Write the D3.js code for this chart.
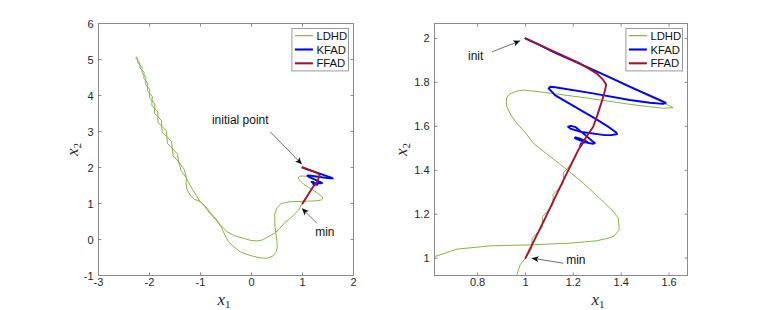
<!DOCTYPE html>
<html><head><meta charset="utf-8">
<script src="https://cdn.jsdelivr.net/npm/d3@7"></script>
<style>body{margin:0;background:#fff}svg{display:block}</style>
</head><body>
<svg id="c" width="761" height="310"></svg>
<script>
// ---------------- data ----------------
const seriesNames = ["LDHD", "KFAD", "FFAD"];
const seriesColors = ["#77AC30", "#0000FF", "#A2142F"];
const seriesWidths = [0.9, 1.9, 1.9];

const ldhd = [
  [1.0,2.0],[1.3,1.847],[1.5,1.745],[1.6,1.694],[1.617,1.685],
  [1.575,1.682],[1.436,1.70],[1.25,1.73],[1.061,1.757],[0.992,1.765],[0.964,1.76],[0.935,1.748],[0.922,1.732],[0.92,1.71],[0.922,1.689],[0.94,1.65],[0.964,1.614],[1.0,1.57],[1.033,1.523],[1.1,1.465],[1.158,1.416],[1.242,1.341],[1.325,1.257],[1.365,1.215],[1.388,1.182],[1.392,1.129],[1.37,1.1],[1.346,1.091],[1.298,1.079],[1.186,1.068],[1.006,1.06],[0.853,1.056],[0.714,1.041],[0.62,1.007],
  [0.58,1.0],[0.50,0.88],[0.455,0.7],[0.46,0.36],[0.48,0.15],[0.50,-0.06],[0.505,-0.22],[0.48,-0.36],[0.42,-0.46],[0.30,-0.52],[0.17,-0.51],[0.04,-0.47],[-0.1,-0.41],[-0.22,-0.34],[-0.35,-0.2],[-0.45,-0.06],[-0.52,0.12],[-0.58,0.31],[-0.68,0.54],[-0.80,0.74],[-0.90,0.91],[-1.006,1.05],[-1.08,1.22],[-1.16,1.40],[-1.23,1.57],
  [-1.275,1.70],[-1.315,1.94],[-1.43,2.16],[-1.536,2.321],[-1.555,2.532],[-1.565,2.717],[-1.659,2.855],[-1.750,2.981],[-1.763,3.151],[-1.763,3.301],[-1.836,3.410],[-1.900,3.507],[-1.899,3.641],[-1.894,3.765],[-1.949,3.854],[-2.000,3.940],[-1.997,4.057],[-1.994,4.164],[-2.039,4.242],[-2.078,4.313],[-2.074,4.409],[-2.071,4.499],[-2.107,4.566],[-2.1455,4.625],[-2.146,4.705],[-2.149,4.784],[-2.189,4.843],[-2.227,4.903],[-2.232,4.982],[-2.232,5.036],[-2.261,5.074],
  [-2.261,5.020],[-2.232,4.982],[-2.194,4.922],[-2.189,4.843],[-2.186,4.764],[-2.146,4.705],[-2.1075,4.646],[-2.107,4.566],[-2.110,4.476],[-2.074,4.409],[-2.035,4.338],[-2.039,4.242],[-2.042,4.136],[-1.997,4.057],[-1.946,3.971],[-1.949,3.854],[-1.954,3.730],[-1.899,3.641],[-1.835,3.544],[-1.836,3.410],[-1.836,3.260],[-1.763,3.151],[-1.672,3.025],[-1.659,2.855],[-1.649,2.670],[-1.555,2.532],[-1.449,2.371],[-1.43,2.16],[-1.38,1.92],[-1.275,1.70],
  [-1.285,1.55],[-1.265,1.40],[-1.21,1.24],[-1.12,1.12],[-1.006,1.05],[-0.92,0.93],[-0.84,0.77],[-0.72,0.58],[-0.61,0.40],[-0.48,0.22],[-0.33,0.10],[-0.157,0.036],[-0.03,-0.02],[0.106,-0.04],[0.22,-0.01],[0.33,0.08],[0.45,0.17],[0.55,0.30],[0.66,0.48],[0.79,0.63],[0.89,0.77],[0.935,0.84],[0.964,0.924],[0.978,0.97],[1.0,1.0],
  [1.026,1.04],[1.028,1.09],[1.07,1.14],[1.072,1.19],[1.114,1.24],[1.116,1.29],[1.158,1.34],[1.16,1.39],[1.192,1.43]
];

const kfad = [
  [1.0,2.0],[1.06,1.97],[1.12,1.937],[1.193,1.901],[1.339,1.83],[1.436,1.781],[1.52,1.74],[1.565,1.718],[1.586,1.707],[1.575,1.702],[1.52,1.707],[1.436,1.72],[1.27,1.752],[1.124,1.778],[1.103,1.78],[1.097,1.772],[1.11,1.758],[1.123,1.742],[1.2,1.693],[1.29,1.636],[1.35,1.595],[1.378,1.573],[1.383,1.565],[1.36,1.56],[1.331,1.56],[1.235,1.574],[1.19,1.588],[1.178,1.598],[1.19,1.602],[1.21,1.596],[1.25,1.56],[1.28,1.532],[1.29,1.524],[1.283,1.52],[1.26,1.525],[1.225,1.537],[1.206,1.546],[1.21,1.55],[1.225,1.545],[1.25,1.534],[1.258,1.529],[1.245,1.526],[1.232,1.522],[1.228,1.508],[1.234,1.515],[1.236,1.522]
];

const ffad = [
  [1.0,2.0],[1.12,1.94],[1.228,1.886],[1.297,1.841],[1.322,1.815],[1.337,1.79],[1.333,1.765],[1.318,1.71],[1.3,1.65],[1.283,1.598],[1.252,1.548],[1.222,1.495],[1.197,1.44],[1.17,1.38],[1.121,1.27],[1.077,1.17],[1.036,1.08],[1.0,1.0]
];

const leftXTicks = [-3, -2, -1, 0, 1, 2];
const leftYTicks = [-1, 0, 1, 2, 3, 4, 5, 6];
const rightXTicks = [0.8, 1, 1.2, 1.4, 1.6];
const rightYTicks = [1, 1.2, 1.4, 1.6, 1.8, 2];
const leftXDomain = [-3, 2], leftYDomain = [-1, 6];
const rightXDomain = [0.62, 1.677], rightYDomain = [0.921, 2.068];

// annotations: text, text anchor point, arrow tail, arrow head (data coords)
const leftNotes = [
  {text: "initial point", at: [-0.776, 3.207], from: [0.367, 2.993], to: [0.988, 2.089]},
  {text: "min", at: [1.249, 0.10], from: [1.282, 0.452], to: [0.988, 0.868]}
];
const rightNotes = [
  {text: "init", at: [0.76, 1.901], from: [0.86, 1.939], to: [0.978, 1.989]},
  {text: "min", at: [1.17, 0.974], from: [1.158, 0.977], to: [1.026, 1.0]}
];

// ---------------- drawing ----------------
const svg = d3.select("#c");
const FONT = "'Liberation Sans', Arial, Helvetica, sans-serif";
const defs = svg.append("defs");
defs.append("marker").attr("id", "ah").attr("viewBox", "0 0 10 10")
  .attr("refX", 10).attr("refY", 5).attr("markerWidth", 7).attr("markerHeight", 7)
  .attr("markerUnits", "userSpaceOnUse").attr("orient", "auto")
  .append("path").attr("d", "M0,0.5 L10,5 L0,9.5 L2.5,5 Z").attr("fill", "#111");

const series = [ldhd, kfad, ffad];

function panel(id, box, xDom, yDom, xTicks, yTicks, notes, xLabelX, yLabelX) {
  const x = d3.scaleLinear().domain(xDom).range([box.x0, box.x1]);
  const y = d3.scaleLinear().domain(yDom).range([box.y1, box.y0]);
  const g = svg.append("g");
  defs.append("clipPath").attr("id", "clip" + id).append("rect")
    .attr("x", box.x0).attr("y", box.y0).attr("width", box.x1 - box.x0).attr("height", box.y1 - box.y0);

  const line = d3.line().x(d => x(d[0])).y(d => y(d[1]));
  const lg = g.append("g").attr("clip-path", `url(#clip${id})`);
  series.forEach((s, i) => {
    lg.append("path").attr("d", line(s)).attr("fill", "none")
      .attr("stroke", seriesColors[i]).attr("stroke-width", seriesWidths[i])
      .attr("stroke-linejoin", "round").attr("stroke-linecap", "round");
  });

  // box
  const axC = "#8a8a8a";
  g.append("rect").attr("x", box.x0).attr("y", box.y0).attr("width", box.x1 - box.x0)
    .attr("height", box.y1 - box.y0).attr("fill", "none").attr("stroke", axC).attr("stroke-width", 1);
  const tl = 3;
  xTicks.forEach(t => {
    const px = x(t);
    g.append("line").attr("x1", px).attr("x2", px).attr("y1", box.y1).attr("y2", box.y1 - tl).attr("stroke", axC);
    g.append("line").attr("x1", px).attr("x2", px).attr("y1", box.y0).attr("y2", box.y0 + tl).attr("stroke", axC);
    g.append("text").attr("x", px).attr("y", box.y1 + 10.5).attr("text-anchor", "middle")
      .attr("font-family", FONT).attr("font-size", 11).attr("fill", "#262626").text(String(t));
  });
  yTicks.forEach(t => {
    const py = y(t);
    g.append("line").attr("x1", box.x0).attr("x2", box.x0 + tl).attr("y1", py).attr("y2", py).attr("stroke", axC);
    g.append("line").attr("x1", box.x1).attr("x2", box.x1 - tl).attr("y1", py).attr("y2", py).attr("stroke", axC);
    g.append("text").attr("x", box.x0 - 5).attr("y", py + 4).attr("text-anchor", "end")
      .attr("font-family", FONT).attr("font-size", 11).attr("fill", "#262626").text(String(t));
  });

  // axis labels
  const xl = g.append("text").attr("x", xLabelX).attr("y", box.y1 + 29.5).attr("text-anchor", "middle")
    .attr("font-family", "'Liberation Serif', 'Times New Roman', serif").attr("fill", "#262626");
  xl.append("tspan").attr("font-style", "italic").attr("font-size", 17).text("x");
  xl.append("tspan").attr("font-size", 11).attr("dy", 3).text("1");
  const ymid = (box.y0 + box.y1) / 2;
  const yl = g.append("text").attr("transform", `translate(${yLabelX},${ymid}) rotate(-90)`).attr("text-anchor", "middle")
    .attr("font-family", "'Liberation Serif', 'Times New Roman', serif").attr("fill", "#262626");
  yl.append("tspan").attr("font-style", "italic").attr("font-size", 17).text("x");
  yl.append("tspan").attr("font-size", 11).attr("dy", 3).text("2");

  // annotations
  notes.forEach(n => {
    g.append("line").attr("x1", x(n.from[0])).attr("y1", y(n.from[1]))
      .attr("x2", x(n.to[0])).attr("y2", y(n.to[1]))
      .attr("stroke", "#333").attr("stroke-width", 0.7).attr("marker-end", "url(#ah)");
    g.append("text").attr("x", x(n.at[0])).attr("y", y(n.at[1]))
      .attr("font-family", FONT).attr("font-size", 12).attr("fill", "#111").text(n.text);
  });

  // legend
  const lw = 56.6, lh = 42.4;
  const lx = box.x1 - 5 - lw, ly = box.y0 + 5;
  const leg = g.append("g");
  leg.append("rect").attr("x", lx).attr("y", ly).attr("width", lw).attr("height", lh)
    .attr("fill", "#fff").attr("stroke", "#9a9a9a").attr("stroke-width", 1);
  seriesNames.forEach((name, i) => {
    const ry = ly + 7.2 + i * 13.8;
    leg.append("line").attr("x1", lx + 3).attr("x2", lx + 21).attr("y1", ry).attr("y2", ry)
      .attr("stroke", seriesColors[i]).attr("stroke-width", seriesWidths[i] + 0.2);
    leg.append("text").attr("x", lx + 24.5).attr("y", ry + 4).attr("font-family", FONT)
      .attr("font-size", 11.3).attr("fill", "#111").text(name);
  });
}

panel("L", {x0: 98.5, x1: 353.5, y0: 23.5, y1: 275.5}, leftXDomain, leftYDomain, leftXTicks, leftYTicks, leftNotes, 224, 78);
panel("R", {x0: 434.5, x1: 687.5, y0: 23.5, y1: 275.5}, rightXDomain, rightYDomain, rightXTicks, rightYTicks, rightNotes, 598, 407);
</script>
</body></html>
